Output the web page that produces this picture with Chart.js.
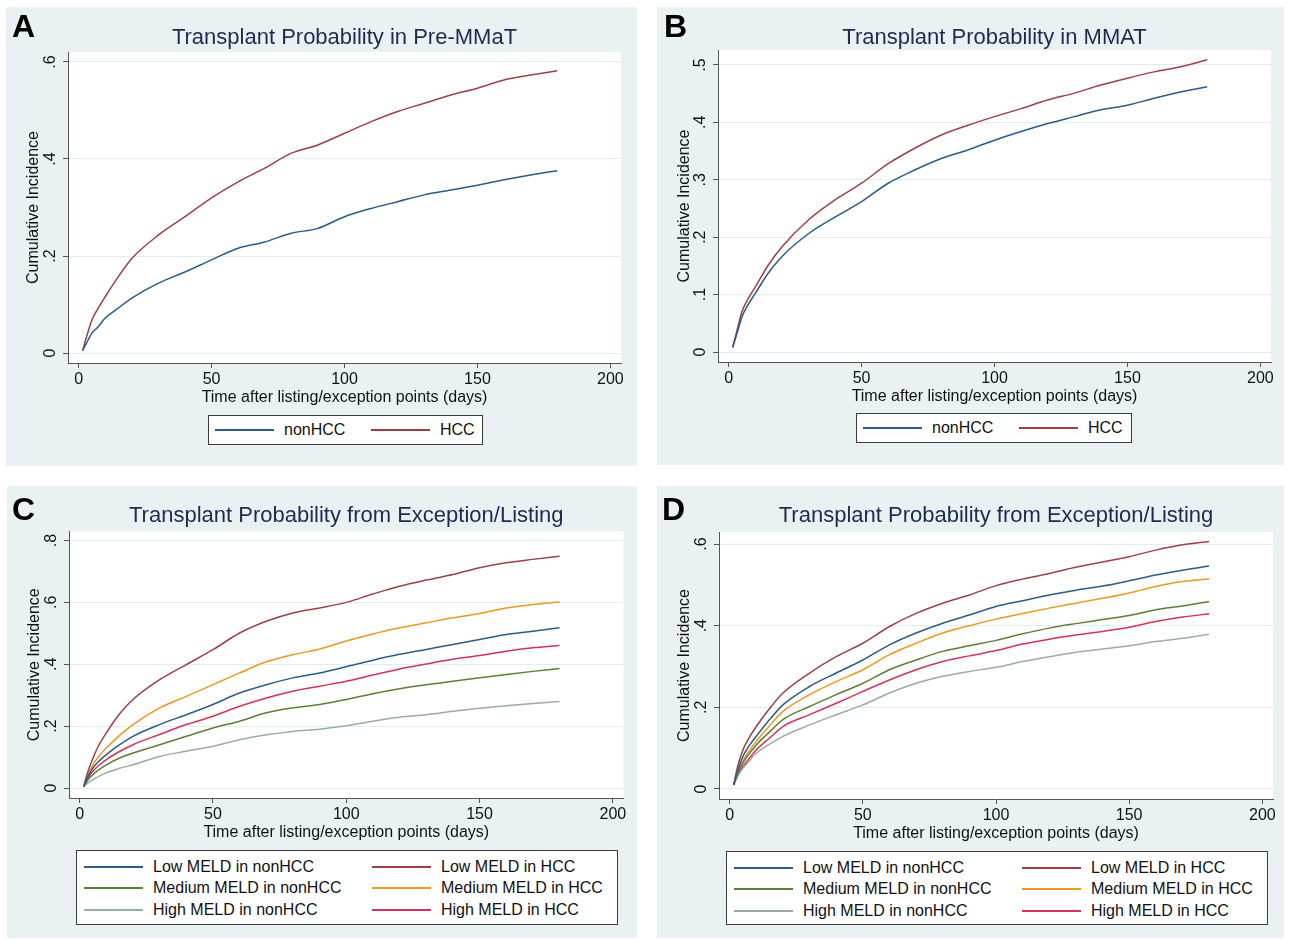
<!DOCTYPE html>
<html>
<head>
<meta charset="utf-8">
<script src="https://cdn.jsdelivr.net/npm/chart.js@4.4.1/dist/chart.umd.min.js"></script>
<style>
  body { margin: 0; background: #fff; font-family: "Liberation Sans", Arial, sans-serif; }
  #fig { position: relative; width: 1289px; height: 940px; }
  .panel { position: absolute; background: #eaf1f3; }
  .panel canvas { position: absolute; left: 0; top: 0; }
  .letter { position: absolute; font-weight: bold; font-size: 32px; line-height: 1; color: #000; }
  .title { position: absolute; width: 600px; text-align: center; font-size: 22px; line-height: 1; color: #1d2b4f; white-space: nowrap; }
  .legend { position: absolute; box-sizing: border-box; border: 1px solid #3c3c3c; background: #fff; display: grid; font-size: 16px; color: #111; }
  .legend .item { display: flex; align-items: center; white-space: nowrap; }
  .legend .swatch { width: 59px; height: 2px; margin-right: 10px; flex: none; }
</style>
</head>
<body>
<div id="fig"></div>
<script>
// time after listing (days) at which the curves were read
const days = [1.5, 3, 5, 7, 10, 15, 20, 30, 40, 50, 60, 70, 80, 90, 100, 110, 120, 130, 140, 150, 160, 170, 180];
const xTicks = [0, 50, 100, 150, 200];
const yTicksA = [0, 0.2, 0.4, 0.6];
const yTicksB = [0, 0.1, 0.2, 0.3, 0.4, 0.5];
const yTicksC = [0, 0.2, 0.4, 0.6, 0.8];
const yTicksD = [0, 0.2, 0.4, 0.6];

const labels2 = ["nonHCC", "HCC"];
const labels6 = ["Low MELD in nonHCC", "Low MELD in HCC", "Medium MELD in nonHCC",
                 "Medium MELD in HCC", "High MELD in nonHCC", "High MELD in HCC"];

// Panel A - Pre-MMaT
const aNonHCC = [0.005, 0.021, 0.041, 0.052, 0.072, 0.093, 0.113, 0.144, 0.167, 0.192, 0.216, 0.229, 0.247, 0.257, 0.281, 0.298, 0.312, 0.326, 0.336, 0.346, 0.357, 0.367, 0.376];
const aHCC    = [0.005, 0.034, 0.068, 0.089, 0.116, 0.158, 0.195, 0.243, 0.281, 0.320, 0.353, 0.381, 0.412, 0.429, 0.453, 0.477, 0.498, 0.515, 0.532, 0.546, 0.563, 0.573, 0.582];

// Panel B - MMAT
const bNonHCC = [0.008, 0.030, 0.061, 0.080, 0.102, 0.138, 0.166, 0.206, 0.235, 0.262, 0.294, 0.317, 0.337, 0.352, 0.369, 0.384, 0.398, 0.410, 0.422, 0.430, 0.442, 0.453, 0.462];
const bHCC    = [0.008, 0.035, 0.070, 0.090, 0.113, 0.152, 0.183, 0.230, 0.265, 0.294, 0.328, 0.355, 0.378, 0.395, 0.410, 0.424, 0.439, 0.451, 0.465, 0.477, 0.488, 0.497, 0.509];

// Panel C - by MELD group
const cLowNon  = [0.005, 0.035, 0.065, 0.085, 0.108, 0.140, 0.167, 0.205, 0.237, 0.270, 0.307, 0.334, 0.356, 0.372, 0.392, 0.413, 0.432, 0.448, 0.464, 0.480, 0.496, 0.507, 0.518];
const cLowHCC  = [0.005, 0.050, 0.097, 0.135, 0.178, 0.240, 0.286, 0.350, 0.399, 0.447, 0.501, 0.539, 0.566, 0.582, 0.600, 0.627, 0.652, 0.672, 0.690, 0.712, 0.728, 0.739, 0.749];
const cMedNon  = [0.005, 0.025, 0.043, 0.058, 0.075, 0.097, 0.113, 0.140, 0.167, 0.194, 0.216, 0.243, 0.259, 0.270, 0.286, 0.305, 0.321, 0.334, 0.345, 0.356, 0.367, 0.377, 0.386];
const cMedHCC  = [0.005, 0.040, 0.075, 0.100, 0.129, 0.170, 0.205, 0.259, 0.296, 0.334, 0.372, 0.408, 0.431, 0.449, 0.475, 0.498, 0.518, 0.534, 0.550, 0.564, 0.582, 0.593, 0.602];
const cHighNon = [0.005, 0.016, 0.027, 0.037, 0.049, 0.064, 0.075, 0.102, 0.119, 0.135, 0.156, 0.172, 0.183, 0.190, 0.201, 0.216, 0.229, 0.237, 0.248, 0.258, 0.266, 0.273, 0.280];
const cHighHCC = [0.005, 0.030, 0.054, 0.072, 0.092, 0.118, 0.140, 0.173, 0.205, 0.232, 0.264, 0.291, 0.313, 0.329, 0.345, 0.365, 0.385, 0.401, 0.416, 0.428, 0.442, 0.453, 0.461];

// Panel D - by MELD group
const dLowNon  = [0.010, 0.045, 0.080, 0.103, 0.129, 0.170, 0.206, 0.251, 0.284, 0.316, 0.353, 0.382, 0.406, 0.426, 0.447, 0.461, 0.475, 0.487, 0.497, 0.510, 0.524, 0.536, 0.546];
const dLowHCC  = [0.010, 0.055, 0.096, 0.122, 0.153, 0.197, 0.235, 0.284, 0.324, 0.357, 0.398, 0.430, 0.455, 0.475, 0.498, 0.514, 0.528, 0.543, 0.556, 0.569, 0.585, 0.598, 0.606];
const dMedNon  = [0.010, 0.038, 0.064, 0.083, 0.108, 0.140, 0.170, 0.202, 0.231, 0.259, 0.292, 0.316, 0.337, 0.351, 0.364, 0.380, 0.394, 0.405, 0.415, 0.425, 0.439, 0.448, 0.459];
const dMedHCC  = [0.010, 0.040, 0.068, 0.090, 0.117, 0.155, 0.190, 0.231, 0.263, 0.292, 0.329, 0.357, 0.382, 0.400, 0.416, 0.430, 0.443, 0.455, 0.467, 0.480, 0.496, 0.508, 0.514];
const dHighNon = [0.010, 0.030, 0.051, 0.066, 0.088, 0.110, 0.129, 0.157, 0.182, 0.206, 0.235, 0.259, 0.276, 0.288, 0.298, 0.312, 0.324, 0.335, 0.343, 0.351, 0.361, 0.369, 0.379];
const dHighHCC = [0.010, 0.033, 0.055, 0.072, 0.096, 0.125, 0.153, 0.182, 0.210, 0.239, 0.267, 0.292, 0.312, 0.326, 0.339, 0.355, 0.367, 0.377, 0.386, 0.396, 0.410, 0.421, 0.429];

// stata s2color-ish
const colors2 = ["#2a5b8a", "#9e3f48"];
const colors6 = ["#2a5b8a", "#9e3f48", "#5b7f35", "#f0971f", "#9aaca6", "#d3325a"];

const FONT = '"Liberation Sans", Arial, sans-serif';
const X_AXIS_H = 48;

const panels = [
  { letter: "A", title: "Transplant Probability in Pre-MMaT",
    rect: [6, 7, 631, 459], area: [62, 45, 615, 356], y: [-0.0206, 0.6206], yTicks: yTicksA,
    labels: labels2, colors: colors2, series: [aNonHCC, aHCC],
    letterPos: [12, 10], titleY: 26,
    legend: { x: 208, y: 415, w: 275, h: 30, col: 156, padL: 6, padT: 0, rowH: 28 } },
  { letter: "B", title: "Transplant Probability in MMAT",
    rect: [657, 7, 627, 458], area: [61, 43, 614, 355], y: [-0.0174, 0.5261], yTicks: yTicksB,
    labels: labels2, colors: colors2, series: [bNonHCC, bHCC],
    letterPos: [664, 10], titleY: 26,
    legend: { x: 856, y: 413, w: 276, h: 30, col: 156, padL: 6, padT: 0, rowH: 28 } },
  { letter: "C", title: "Transplant Probability from Exception/Listing",
    rect: [7, 486, 630, 452], area: [62, 45.5, 616.5, 312], y: [-0.0323, 0.8291], yTicks: yTicksC,
    labels: labels6, colors: colors6, series: [cLowNon, cLowHCC, cMedNon, cMedHCC, cHighNon, cHighHCC],
    letterPos: [12, 493], titleY: 504,
    legend: { x: 76, y: 850, w: 542, h: 75, col: 288, padL: 7, padT: 5, rowH: 21.5 } },
  { letter: "D", title: "Transplant Probability from Exception/Listing",
    rect: [657, 486, 627, 452], area: [62, 46, 616, 313], y: [-0.0245, 0.6294], yTicks: yTicksD,
    labels: labels6, colors: colors6, series: [dLowNon, dLowHCC, dMedNon, dMedHCC, dHighNon, dHighHCC],
    letterPos: [662, 493], titleY: 504,
    legend: { x: 726, y: 851, w: 542, h: 74, col: 288, padL: 7, padT: 5, rowH: 21.5 } }
];

const fmtY = v => v === 0 ? "0" : String(Math.round(v * 10) / 10).replace(/^0/, "");

// white plot region
const plotBg = {
  id: "plotBg",
  beforeDraw(chart) {
    const { ctx, chartArea: a } = chart;
    ctx.save();
    ctx.fillStyle = "#fff";
    ctx.fillRect(a.left, a.top, a.right - a.left, a.bottom - a.top);
    ctx.restore();
  }
};

// stata draws the y tick labels turned on their side
const yTickLabels = {
  id: "yTickLabels",
  afterDraw(chart) {
    const s = chart.scales.y;
    const ctx = chart.ctx;
    ctx.save();
    ctx.font = "16px " + FONT;
    ctx.fillStyle = "#111";
    ctx.textAlign = "center";
    ctx.textBaseline = "middle";
    s.ticks.forEach(t => {
      ctx.save();
      ctx.translate(s.right - 17, s.getPixelForValue(t.value));
      ctx.rotate(-Math.PI / 2);
      ctx.fillText(fmtY(t.value), 0, 0);
      ctx.restore();
    });
    ctx.restore();
  }
};

const fig = document.getElementById("fig");

panels.forEach(p => {
  const [px, py, pw, ph] = p.rect;
  const [al, at, ar, ab] = p.area;

  const div = document.createElement("div");
  div.className = "panel";
  Object.assign(div.style, { left: px + "px", top: py + "px", width: pw + "px", height: ph + "px" });
  const canvas = document.createElement("canvas");
  canvas.width = pw;
  canvas.height = ph;
  div.appendChild(canvas);
  fig.appendChild(div);

  const chart = new Chart(canvas, {
    type: "line",
    data: {
      datasets: p.series.map((vals, i) => ({
        label: p.labels[i],
        data: days.map((d, j) => ({ x: d, y: vals[j] })),
        borderColor: p.colors[i],
        borderWidth: 1.5,
        pointRadius: 0,
        cubicInterpolationMode: "monotone",
        fill: false
      }))
    },
    options: {
      responsive: false,
      animation: false,
      layout: { padding: { left: 0, top: at, right: pw - ar, bottom: ph - ab - X_AXIS_H } },
      plugins: { legend: { display: false }, title: { display: false }, tooltip: { enabled: false } },
      scales: {
        x: {
          type: "linear",
          min: -4,
          max: 204,
          afterBuildTicks: s => { s.ticks = xTicks.map(v => ({ value: v })); },
          afterFit: s => { s.height = X_AXIS_H; },
          border: { display: true, color: "#555", width: 1 },
          grid: { color: "rgba(0,0,0,0)", tickColor: "#555", tickLength: 5, drawTicks: true },
          ticks: { color: "#111", font: { family: FONT, size: 16 }, padding: 2, maxRotation: 0, autoSkip: false },
          title: { display: true, text: "Time after listing/exception points (days)", color: "#111",
                   font: { family: FONT, size: 16 }, padding: { top: 0, bottom: 4 } }
        },
        y: {
          type: "linear",
          min: p.y[0],
          max: p.y[1],
          afterBuildTicks: s => { s.ticks = p.yTicks.map(v => ({ value: v })); },
          afterFit: s => { s.width = al; },
          border: { display: true, color: "#555", width: 1 },
          grid: { color: "#e4ecef", lineWidth: 1, tickColor: "#555", tickLength: 5, drawTicks: true },
          ticks: { display: false },
          title: { display: true, text: "Cumulative Incidence", color: "#111",
                   font: { family: FONT, size: 16 }, padding: { top: 18, bottom: 0 } }
        }
      }
    },
    plugins: [plotBg, yTickLabels]
  });

  // panel letter and title
  const letter = document.createElement("div");
  letter.className = "letter";
  letter.textContent = p.letter;
  Object.assign(letter.style, { left: p.letterPos[0] + "px", top: p.letterPos[1] + "px" });
  fig.appendChild(letter);

  const title = document.createElement("div");
  title.className = "title";
  title.textContent = p.title;
  const cx = px + (al + ar) / 2;
  Object.assign(title.style, { left: (cx - 300) + "px", top: p.titleY + "px" });
  fig.appendChild(title);

  // legend box from the chart's datasets
  const lg = p.legend;
  const box = document.createElement("div");
  box.className = "legend";
  Object.assign(box.style, {
    left: lg.x + "px", top: lg.y + "px", width: lg.w + "px", height: lg.h + "px",
    paddingLeft: lg.padL + "px", paddingTop: lg.padT + "px",
    gridTemplateColumns: lg.col + "px auto", gridAutoRows: lg.rowH + "px",
    alignContent: lg.padT ? "start" : "center"
  });
  chart.data.datasets.forEach(ds => {
    const item = document.createElement("div");
    item.className = "item";
    const sw = document.createElement("span");
    sw.className = "swatch";
    sw.style.background = ds.borderColor;
    const txt = document.createElement("span");
    txt.textContent = ds.label;
    item.appendChild(sw);
    item.appendChild(txt);
    box.appendChild(item);
  });
  fig.appendChild(box);
});
</script>
</body>
</html>
